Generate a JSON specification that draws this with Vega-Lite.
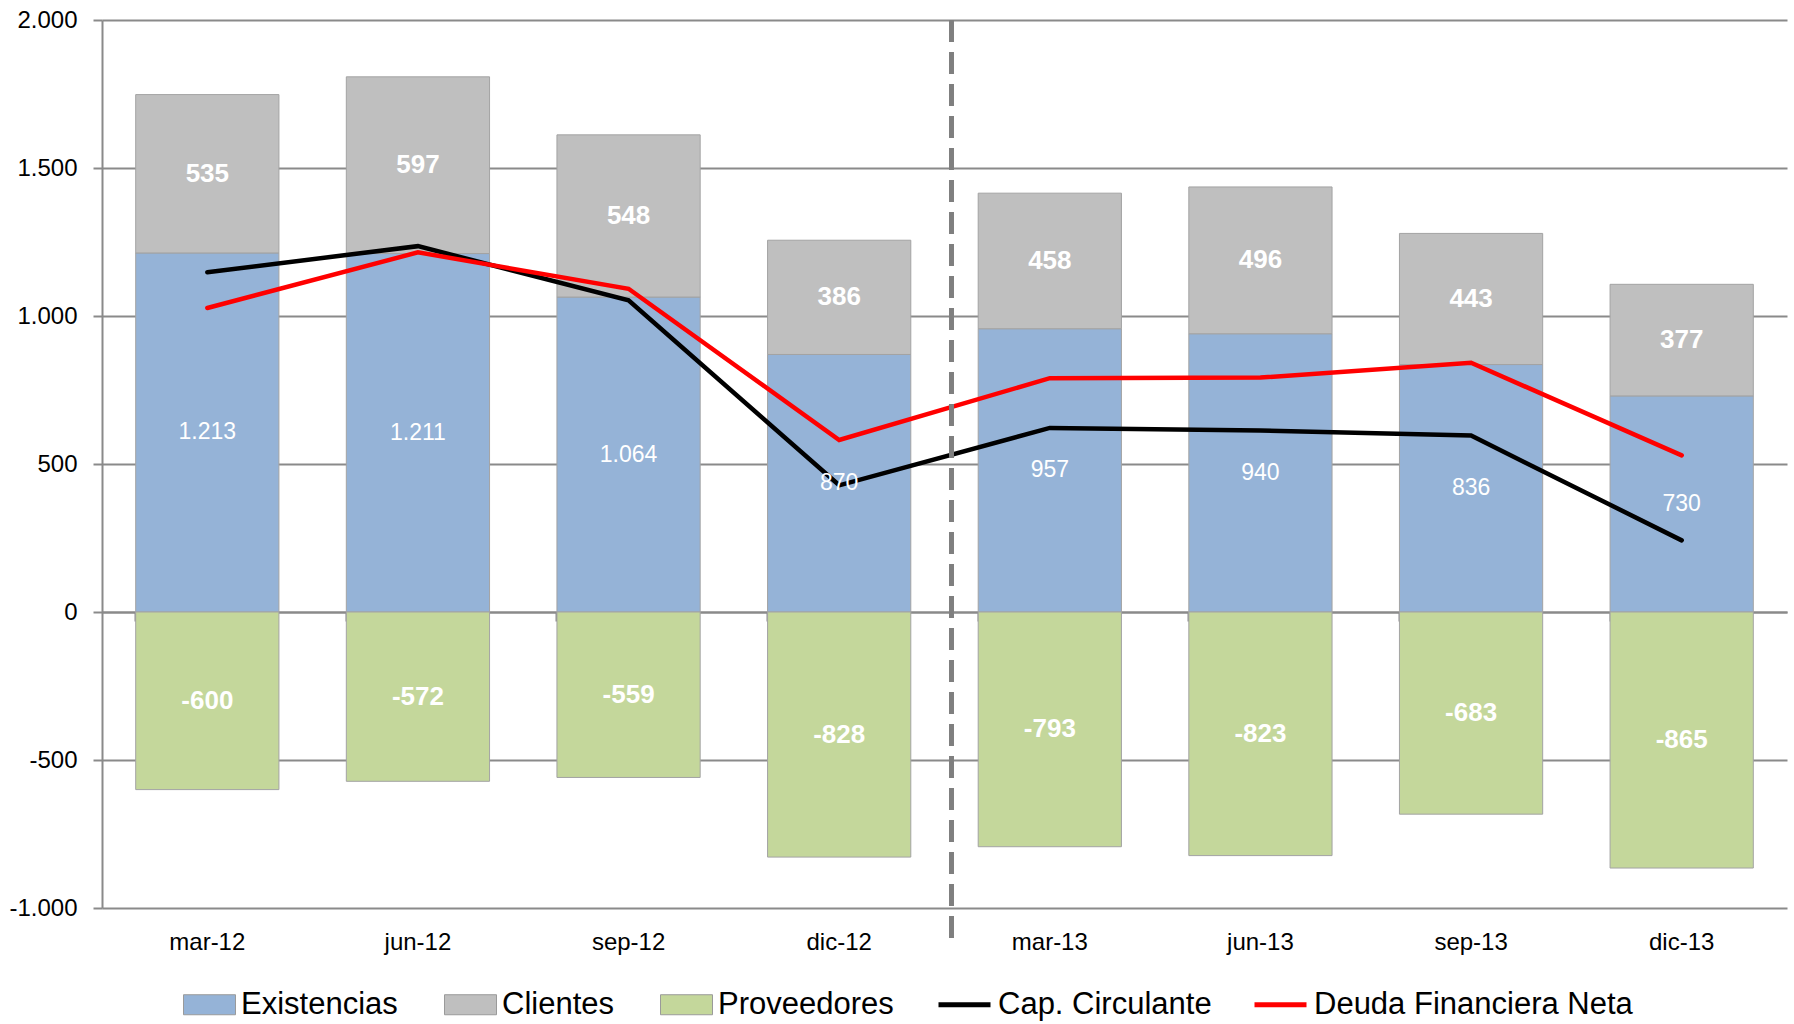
{
  "$schema": "https://vega.github.io/schema/vega-lite/v6.json",
  "width": 1685,
  "height": 888,
  "autosize": {"type": "none"},
  "padding": {"left": 102, "top": 20, "right": 7, "bottom": 116},
  "background": "#ffffff",
  "config": {
    "view": {"stroke": null},
    "locale": {"number": {"decimal": ",", "thousands": ".", "grouping": [3], "currency": ["", " €"], "minus": "-"}},
    "font": "Liberation Sans"
  },
  "data": {
    "values": [
      {"date": "mar-12", "series": "Existencias", "ord": 1, "value": 1213},
      {"date": "mar-12", "series": "Clientes", "ord": 2, "value": 535},
      {"date": "mar-12", "series": "Proveedores", "ord": 3, "value": -600},
      {"date": "mar-12", "series": "Cap. Circulante", "ord": 4, "value": 1148},
      {"date": "mar-12", "series": "Deuda Financiera Neta", "ord": 5, "value": 1027},
      {"date": "jun-12", "series": "Existencias", "ord": 1, "value": 1211},
      {"date": "jun-12", "series": "Clientes", "ord": 2, "value": 597},
      {"date": "jun-12", "series": "Proveedores", "ord": 3, "value": -572},
      {"date": "jun-12", "series": "Cap. Circulante", "ord": 4, "value": 1236},
      {"date": "jun-12", "series": "Deuda Financiera Neta", "ord": 5, "value": 1215},
      {"date": "sep-12", "series": "Existencias", "ord": 1, "value": 1064},
      {"date": "sep-12", "series": "Clientes", "ord": 2, "value": 548},
      {"date": "sep-12", "series": "Proveedores", "ord": 3, "value": -559},
      {"date": "sep-12", "series": "Cap. Circulante", "ord": 4, "value": 1053},
      {"date": "sep-12", "series": "Deuda Financiera Neta", "ord": 5, "value": 1092},
      {"date": "dic-12", "series": "Existencias", "ord": 1, "value": 870},
      {"date": "dic-12", "series": "Clientes", "ord": 2, "value": 386},
      {"date": "dic-12", "series": "Proveedores", "ord": 3, "value": -828},
      {"date": "dic-12", "series": "Cap. Circulante", "ord": 4, "value": 428},
      {"date": "dic-12", "series": "Deuda Financiera Neta", "ord": 5, "value": 581},
      {"date": "mar-13", "series": "Existencias", "ord": 1, "value": 957},
      {"date": "mar-13", "series": "Clientes", "ord": 2, "value": 458},
      {"date": "mar-13", "series": "Proveedores", "ord": 3, "value": -793},
      {"date": "mar-13", "series": "Cap. Circulante", "ord": 4, "value": 622},
      {"date": "mar-13", "series": "Deuda Financiera Neta", "ord": 5, "value": 790},
      {"date": "jun-13", "series": "Existencias", "ord": 1, "value": 940},
      {"date": "jun-13", "series": "Clientes", "ord": 2, "value": 496},
      {"date": "jun-13", "series": "Proveedores", "ord": 3, "value": -823},
      {"date": "jun-13", "series": "Cap. Circulante", "ord": 4, "value": 613},
      {"date": "jun-13", "series": "Deuda Financiera Neta", "ord": 5, "value": 792},
      {"date": "sep-13", "series": "Existencias", "ord": 1, "value": 836},
      {"date": "sep-13", "series": "Clientes", "ord": 2, "value": 443},
      {"date": "sep-13", "series": "Proveedores", "ord": 3, "value": -683},
      {"date": "sep-13", "series": "Cap. Circulante", "ord": 4, "value": 596},
      {"date": "sep-13", "series": "Deuda Financiera Neta", "ord": 5, "value": 842},
      {"date": "dic-13", "series": "Existencias", "ord": 1, "value": 730},
      {"date": "dic-13", "series": "Clientes", "ord": 2, "value": 377},
      {"date": "dic-13", "series": "Proveedores", "ord": 3, "value": -865},
      {"date": "dic-13", "series": "Cap. Circulante", "ord": 4, "value": 242},
      {"date": "dic-13", "series": "Deuda Financiera Neta", "ord": 5, "value": 529}
    ]
  },
  "encoding": {
    "x": {
      "field": "date",
      "type": "nominal",
      "sort": ["mar-12", "jun-12", "sep-12", "dic-12", "mar-13", "jun-13", "sep-13", "dic-13"],
      "scale": {"paddingInner": 0.32, "paddingOuter": 0.16},
      "axis": {
        "title": null,
        "orient": "bottom",
        "offset": -296,
        "bandPosition": 0,
        "labelAngle": 0,
        "labelFont": "Liberation Sans",
        "labelFontSize": 24,
        "labelColor": "#000000",
        "labelPadding": 309,
        "labelBaseline": "top",
        "domainColor": "#8a8a8a",
        "domainWidth": 2,
        "tickColor": "#8a8a8a",
        "tickWidth": 2,
        "tickSize": 9,
        "grid": false
      }
    }
  },
  "layer": [
    {
      "transform": [{"filter": "datum.ord <= 3"}],
      "mark": {"type": "bar", "stroke": "#a3a3a3", "strokeWidth": 1},
      "encoding": {
        "y": {
          "field": "value",
          "type": "quantitative",
          "stack": "zero",
          "scale": {"domain": [-1000, 2000], "nice": false},
          "axis": {
            "title": null,
            "values": [-1000, -500, 0, 500, 1000, 1500, 2000],
            "format": ",d",
            "labelFont": "Liberation Sans",
            "labelFontSize": 24,
            "labelColor": "#000000",
            "labelPadding": 16,
            "tickSize": 9,
            "tickColor": "#8a8a8a",
            "tickWidth": 2,
            "domainColor": "#8a8a8a",
            "domainWidth": 2,
            "grid": true,
            "gridColor": "#8a8a8a",
            "gridWidth": 2
          }
        },
        "order": {"field": "ord", "type": "quantitative"},
        "fill": {
          "field": "series",
          "type": "nominal",
          "scale": {"domain": ["Existencias", "Clientes", "Proveedores"], "range": ["#95b3d7", "#bfbfbf", "#c4d79b"]},
          "legend": {
            "title": null,
            "orient": "none",
            "direction": "horizontal",
            "legendX": 81,
            "legendY": 958,
            "padding": 0,
            "symbolType": "M-1,-0.385H1V0.385H-1Z",
            "symbolSize": 2704,
            "symbolStrokeColor": "#9a9a9a",
            "symbolStrokeWidth": 1,
            "symbolOpacity": 1,
            "labelFont": "Liberation Sans",
            "labelFontSize": 31,
            "labelColor": "#000000",
            "labelOffset": 5,
            "labelLimit": 400,
            "columnPadding": 44
          }
        }
      }
    },
    {
      "transform": [{"filter": "datum.ord >= 4"}],
      "mark": {"type": "line", "strokeWidth": 4.5, "strokeJoin": "miter", "strokeCap": "round"},
      "encoding": {
        "y": {"field": "value", "type": "quantitative"},
        "stroke": {
          "field": "series",
          "type": "nominal",
          "scale": {"domain": ["Cap. Circulante", "Deuda Financiera Neta"], "range": ["#000000", "#ff0000"]},
          "legend": {
            "title": null,
            "orient": "none",
            "direction": "horizontal",
            "legendX": 834,
            "legendY": 956,
            "padding": 0,
            "symbolType": "stroke",
            "symbolSize": 2704,
            "symbolStrokeWidth": 5,
            "labelFont": "Liberation Sans",
            "labelFontSize": 31,
            "labelColor": "#000000",
            "labelOffset": 5,
            "labelLimit": 400,
            "columnPadding": 32
          }
        }
      }
    },
    {
      "mark": {"type": "rule", "color": "#7f7f7f", "strokeWidth": 3.5, "strokeDash": [22, 10]},
      "encoding": {
        "x": {"datum": "dic-12", "bandPosition": 1.285},
        "y": {"datum": 2000, "type": "quantitative"},
        "y2": {"datum": -1120}
      }
    },
    {
      "transform": [{"filter": "datum.ord <= 3"}],
      "mark": {"type": "text", "font": "Liberation Sans", "fontSize": 23, "color": "#ffffff", "baseline": "middle", "align": "center"},
      "encoding": {
        "y": {"field": "value", "type": "quantitative", "stack": "zero", "bandPosition": 0.5},
        "order": {"field": "ord", "type": "quantitative"},
        "text": {"condition": {"test": "datum.ord == 1", "field": "value", "type": "quantitative", "format": ",d"}, "value": ""}
      }
    },
    {
      "transform": [{"filter": "datum.ord <= 3"}],
      "mark": {"type": "text", "font": "Liberation Sans", "fontSize": 26, "fontWeight": "bold", "color": "#ffffff", "baseline": "middle", "align": "center"},
      "encoding": {
        "y": {"field": "value", "type": "quantitative", "stack": "zero", "bandPosition": 0.5},
        "order": {"field": "ord", "type": "quantitative"},
        "text": {"condition": {"test": "datum.ord != 1", "field": "value", "type": "quantitative", "format": ",d"}, "value": ""}
      }
    }
  ]
}
